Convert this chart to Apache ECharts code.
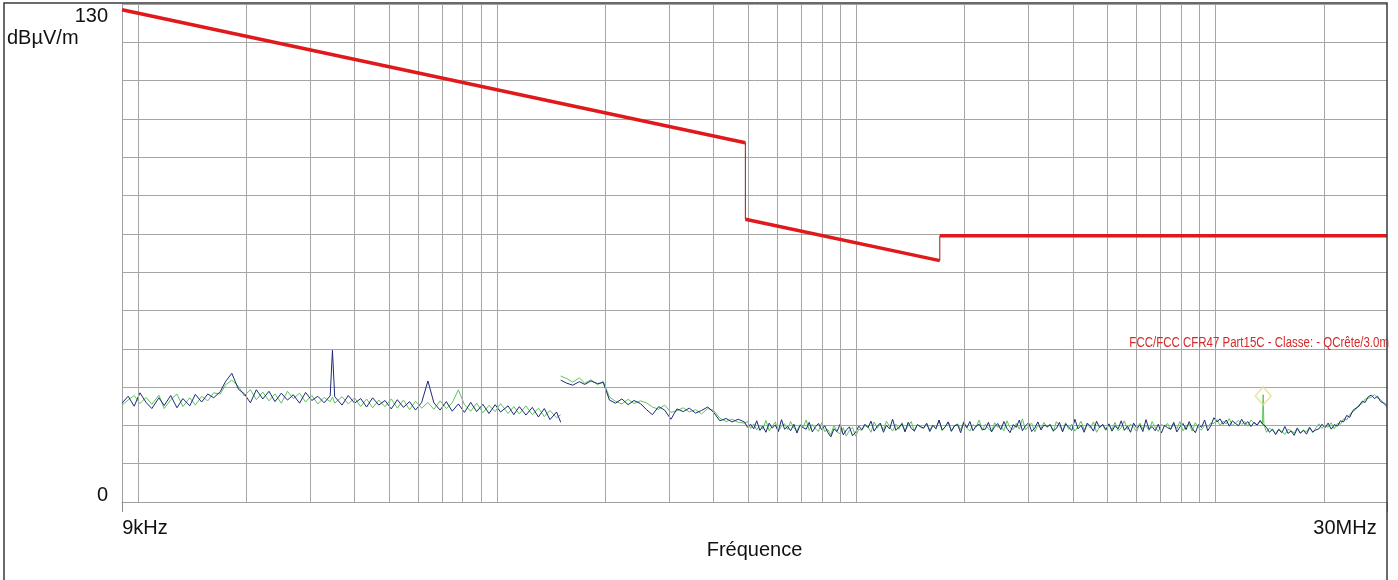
<!DOCTYPE html>
<html><head><meta charset="utf-8">
<script src="https://cdn.jsdelivr.net/npm/echarts@6/dist/echarts.min.js"></script>
<style>html,body{margin:0;padding:0;background:#fff}#c{width:1398px;height:580px}</style>
</head><body><div id="c"></div>
<script>
// ---- data (frequencies in kHz, levels in dBµV/m) ----
const freqBand1 = [9,9.36,9.73,10.1,10.5,10.9,11.4,11.8,12.3,12.8,13.3,13.9,14.4,15.0,15.6,16.2,16.9,17.5,18.2,19.0,19.7,20.5,21.3,22.2,23.1,24.0,25.0,26.0,27.0,28.1,29.2,30.4,31.6,32.9,34.2,34.7,35.2,36.9,38.4,40.0,41.6,43.2,44.9,46.7,48.6,50.6,52.6,54.7,56.9,59.1,61.5,64.0,66.5,69.2,72.0,74.8,77.8,80.9,84.2,87.5,91.0,94.7,98.5,102,107,111,115,120,125,130,135,140,146,150];
const blueBand1 = [
  25.8,27.6,25.0,28.5,26.0,24.4,27.2,25.2,27.8,24.6,27.0,25.1,28.1,26.1,28.2,27.2,
  28.8,31.5,33.6,29.4,
  28.3,25.9,29.3,26.9,28.9,26.2,28.4,26.6,28.0,25.8,28.6,26.5,27.6,25.9,27.7,
  39.6,
  27.5,25.3,27.8,25.8,27.0,24.8,27.2,25.3,26.5,24.3,26.7,24.7,26.2,24.0,26.0,
  31.6,
  25.9,24.0,26.2,23.7,25.6,23.4,26.0,23.6,25.5,23.1,25.4,23.5,25.1,22.8,24.9,22.7,24.7,22.2,24.4,21.5,23.5,20.8];
const greenBand1 = [
  25.3,26.6,27.8,25.7,27.3,25.5,27.9,24.4,26.7,28.2,24.9,27.2,25.3,27.6,26.4,28.5,
  28.2,30.6,31.8,30.2,
  27.7,29.3,26.7,28.7,26.4,28.2,25.8,28.9,27.0,28.4,26.1,27.8,25.6,27.3,26.2,
  27.4,
  25.8,27.5,25.6,27.2,24.9,26.9,24.6,26.6,24.9,26.9,24.5,26.6,24.1,26.3,24.5,
  26.0,
  24.2,26.4,24.4,25.9,29.3,25.4,23.7,25.8,23.3,25.2,23.6,25.7,23.1,24.9,23.0,25.1,22.8,24.5,22.3,23.9,22.0,22.8];

const freqBand2a = [150,156,162,169,175,182,190,197,205,213,222,231,240,250,260,270,281,292,304,316,329,342,356,370,385,400,416,433,450,468];
const blueBand2a = [31.8,31.0,30.5,31.4,30.7,31.6,30.9,31.2,26.6,25.8,26.9,25.4,26.5,25.7,24.1,22.8,24.9,24.0,21.6,24.3,23.6,24.5,23.2,23.9,24.8,23.4,21.2,21.8,20.9,21.6];
const greenBand2a = [32.9,32.2,31.3,32.4,31.0,31.9,30.6,31.5,27.4,26.3,25.6,26.8,25.7,26.4,25.9,24.8,24.2,25.3,23.4,23.8,24.6,23.5,24.1,23.0,24.4,23.9,21.9,21.0,21.6,20.8];

const freqBand2b = [
  487,497,507,517,527,538,548,559,571,582,
  594,605,618,630,643,655,669,682,696,710,
  724,738,753,768,783,799,815,832,848,865,
  882,900,918,936,955,974,994,1014,1034,1055,
  1076,1097,1119,1142,1164,1188,1211,1236,1260,1286,
  1311,1338,1364,1392,1420,1448,1477,1507,1537,1567,
  1599,1631,1663,1697,1731,1765,1800,1836,1873,1911,
  1949,1988,2028,2068,2109,2152,2195,2239,2283,2329,
  2376,2423,2472,2521,2572,2623,2676,2729,2784,2839,
  2896,2954,3013,3073,3135,3198,3262,3327,3393,3461,
  3530,3601,3673,3746,3821,3898,3976,4055,4136,4219,
  4303,4390,4477,4567,4658,4751,4846,4943,5042,5143,
  5246,5351,5458,5567,5678,5792,5908,6026,6146,6269,
  6395,6523,6653,6786,6922,7060,7202,7346,7493,7642,
  7795,7951,8110,8272,8438,8607,8779,8954,9133,9316,
  9502,9692,9886,10084,10286,10491,10701,10915,11134,11356,
  11583,11815,12051,12292,12538,12789,13045,13306,13500,13560,
  13620,13842,14119,14401,14689,14983,15283,15588,15900,16218,
  16543,16873,17211,17555,17906,18264,18630,19002,19382,19770,
  20165,20569,20980,21400,21828,22264,22709,23164,23627,24100,
  24582,25073,25575,26086,26608,27140,27683,28237,28801,29377,
  30000];
const blueBand2b = [
  20.9,19.5,20.3,19.1,21.2,18.7,19.8,18.2,20.6,19.3,20.1,18.4,21.5,19.0,19.7,18.6,20.3,18.0,20.0,19.4,
  19.0,20.8,18.3,19.6,20.5,18.9,
  19.9,18.1,17.0,19.1,18.4,20.3,17.5,18.8,19.6,17.3,18.2,19.8,
  18.9,20.3,19.4,21.1,18.5,19.8,20.6,18.2,20.0,19.1,21.6,18.7,19.5,20.4,18.3,20.8,19.2,18.6,20.2,19.7,
  19.3,20.5,18.4,20.0,19.2,21.4,18.8,19.6,20.9,18.5,19.9,20.2,18.1,20.7,19.4,21.0,18.6,19.8,20.3,18.9,
  19.0,20.8,18.3,19.6,20.5,18.9,21.0,19.2,18.1,20.2,19.5,21.4,18.6,19.9,20.7,18.4,19.3,20.9,18.8,20.1,
  19.7,20.2,18.6,19.2,20.8,18.3,20.4,19.5,18.7,21.6,19.1,20.0,18.2,20.6,19.8,18.5,21.1,19.4,20.3,18.9,
  20.4,18.5,19.9,19.1,21.2,18.7,19.8,18.2,20.6,19.3,20.1,18.4,21.5,19.0,19.7,18.6,20.3,18.0,20.0,19.4,
  19.0,20.8,18.3,19.6,20.5,18.9,21.0,19.2,18.1,20.2,19.5,21.4,18.6,19.9,
  22.0,20.9,21.7,20.3,21.4,19.8,21.2,20.5,19.9,21.6,20.2,21.0,19.7,20.8,20.1,21.3,
  20.4,20.0,20.6,
  19.5,18.2,19.0,17.6,18.9,18.1,19.7,17.9,18.5,17.4,19.2,18.0,18.7,17.7,19.4,18.3,18.8,
  19.1,20.3,19.4,20.6,19.0,20.2,
  19.8,21.2,20.9,22.6,22.1,23.9,24.5,25.0,26.3,26.0,27.5,
  27.9,27.0,27.6,26.2,25.8,24.9];
const greenBand2b = [
  20.6,21.0,19.2,20.4,18.8,20.1,19.0,21.3,18.6,19.7,20.9,18.4,19.9,20.4,18.9,21.0,19.3,18.5,20.2,19.6,
  21.4,18.7,20.3,19.1,18.4,20.7,
  18.4,18.9,17.5,20.1,18.3,17.8,19.4,17.2,18.7,19.5,17.2,19.0,
  18.7,20.0,19.6,18.2,20.9,19.3,20.4,18.8,21.1,19.7,18.5,20.3,19.0,20.7,18.6,19.9,21.0,18.4,20.2,19.5,
  19.2,20.6,18.8,20.1,19.0,21.3,18.6,19.7,20.9,18.4,19.9,20.4,18.9,21.0,19.3,18.5,20.2,19.6,21.4,18.7,
  20.3,19.1,18.4,20.7,19.5,20.0,18.6,21.2,19.4,18.9,20.5,19.0,21.7,18.8,19.8,20.6,18.3,20.1,19.2,20.8,
  19.5,20.2,18.4,21.0,19.9,18.6,20.7,19.0,20.3,18.5,19.7,21.1,18.8,20.4,19.3,20.9,18.2,19.6,20.0,18.7,
  20.1,19.0,20.8,18.6,19.4,21.2,18.9,20.3,19.6,18.3,20.6,19.1,20.0,18.7,21.0,19.5,18.4,20.2,19.8,20.5,
  18.9,20.4,19.2,21.0,18.6,19.8,20.3,18.5,20.7,19.4,18.8,20.1,19.6,20.6,
  20.5,21.5,20.0,21.1,20.4,21.8,19.9,20.7,21.3,20.2,21.0,19.8,21.4,20.6,20.0,21.1,
  20.3,28.0,20.5,
  18.2,19.3,18.7,17.8,19.1,18.4,17.6,19.0,18.6,18.0,19.4,17.9,18.8,18.3,19.6,18.1,19.3,
  20.4,19.2,20.0,19.5,20.7,19.1,
  20.5,20.3,21.7,21.4,22.9,23.5,24.2,25.4,25.7,26.9,27.1,
  27.4,28.0,27.2,26.7,25.9,25.4];

const limitFreq = [9, 490, 490, 1705, 1705, 30000];
const limitLevel = [128.5, 93.8, 73.8, 63.0, 69.5, 69.5];
const gridFreqs = [10,20,30,40,50,60,70,80,90,100,200,300,400,500,600,700,800,900,1000,2000,3000,4000,5000,6000,7000,8000,9000,10000,20000];
const markerFreq = [13560];
const markerLevel = [27.7];
const xEndLabels = ['9kHz', '30MHz'];
const yRange = [0, 130];
const yStep = 10;
const yUnit = 'dBµV/m';
const xName = 'Fréquence';
const limitName = 'FCC/FCC CFR47 Part15C - Classe: - QCrête/3.0m';

// ---- build series data ----
function buildTrace(v1, v2a, v2b) {
  const d = freqBand1.map((f, i) => [f, v1[i]]);
  d.push([freqBand1[freqBand1.length - 1], '-']);
  freqBand2a.forEach((f, i) => d.push([f, v2a[i]]));
  freqBand2b.forEach((f, i) => d.push([f, v2b[i]]));
  return d;
}
const limitThick = [];
const limitThin = [];
for (let i = 0; i < limitFreq.length; i += 2) {
  if (i > 0) limitThick.push([limitFreq[i], '-']);
  limitThick.push([limitFreq[i], limitLevel[i]], [limitFreq[i + 1], limitLevel[i + 1]]);
}
for (let i = 1; i < limitFreq.length - 1; i += 2) {
  if (i > 1) limitThin.push([limitFreq[i], '-']);
  limitThin.push([limitFreq[i], limitLevel[i]], [limitFreq[i + 1], limitLevel[i + 1]]);
}

const FONT = '"Liberation Sans", Arial, Helvetica, sans-serif';
const chart = echarts.init(document.getElementById('c'), null, { renderer: 'canvas' });
chart.setOption({
  animation: false,
  backgroundColor: '#ffffff',
  textStyle: { fontFamily: FONT },
  grid: { left: 122, right: 11, top: 4, bottom: 78, containLabel: false },
  xAxis: [
    {
      type: 'log', logBase: 10, min: freqBand1[0], max: freqBand2b[freqBand2b.length - 1],
      axisLine: { show: true, lineStyle: { color: '#a0a0a0', width: 1 } },
      axisTick: { show: false }, axisLabel: { show: false }, splitLine: { show: false }, minorTick: { show: false },
      name: xName, nameLocation: 'middle', nameGap: 38,
      nameTextStyle: { fontSize: 20, color: '#111', fontFamily: FONT }
    },
    {
      type: 'value', min: 0, max: 1, interval: 1, position: 'bottom',
      axisLine: { show: false }, splitLine: { show: false },
      axisTick: { show: true, length: 10, lineStyle: { color: '#8a8a8a', width: 1 } },
      axisLabel: {
        margin: 16, fontSize: 20, color: '#111', fontFamily: FONT,
        formatter: v => v === 0 ? '{l|' + xEndLabels[0] + '}' : '{r|' + xEndLabels[1] + '}',
        rich: {
          l: { fontSize: 20, color: '#111', fontFamily: FONT, padding: [0, 0, 0, 46] },
          r: { fontSize: 20, color: '#111', fontFamily: FONT, padding: [0, 84, 0, 0] }
        }
      }
    }
  ],
  yAxis: {
    type: 'value', min: yRange[0], max: yRange[1], interval: yStep,
    axisLine: { show: true, lineStyle: { color: '#a0a0a0', width: 1 } },
    axisTick: { show: false },
    splitLine: { show: true, lineStyle: { color: '#a6a6a6', width: 1 } },
    axisLabel: {
      margin: 14, fontSize: 20, color: '#111', fontFamily: FONT,
      formatter: v => v === yRange[1] ? '{t|' + v + '}' : (v === yRange[0] ? '{b|' + v + '}' : ''),
      rich: {
        t: { fontSize: 20, color: '#111', fontFamily: FONT, padding: [24, 0, 0, 0] },
        b: { fontSize: 20, color: '#111', fontFamily: FONT, padding: [0, 0, 14, 0] }
      }
    }
  },
  series: [
    {
      type: 'line', name: 'grid', data: [], silent: true, z: 1,
      markLine: {
        silent: true, symbol: ['none', 'none'], label: { show: false },
        lineStyle: { color: '#a6a6a6', width: 1, type: 'solid' },
        emphasis: { disabled: true },
        data: gridFreqs.map(f => ({ xAxis: f }))
      }
    },
    {
      type: 'line', name: 'green', data: buildTrace(greenBand1, greenBand2a, greenBand2b), showSymbol: false, z: 2,
      lineStyle: { color: '#5cc45c', width: 1 }, connectNulls: false
    },
    {
      type: 'line', name: 'blue', data: buildTrace(blueBand1, blueBand2a, blueBand2b), showSymbol: false, z: 3,
      lineStyle: { color: '#1d2a78', width: 1 }, connectNulls: false
    },
    {
      type: 'line', name: 'limitStep', data: limitThin, showSymbol: false, z: 4,
      lineStyle: { color: '#a0141a', width: 1 }
    },
    {
      type: 'line', name: 'limit', data: limitThick, showSymbol: false, z: 5,
      lineStyle: { color: '#e0191c', width: 3.5 }
    },
    {
      type: 'scatter', name: 'marker', z: 6,
      data: markerFreq.map((f, i) => [f, markerLevel[i]]),
      symbol: 'diamond', symbolSize: [16, 18],
      itemStyle: { color: 'rgba(0,0,0,0)', borderColor: '#e6dc8e', borderWidth: 1.5 }
    }
  ],
  graphic: [
    { type: 'rect', z: 100, silent: true, shape: { x: 4, y: 3, width: 1383, height: 640 },
      style: { fill: null, stroke: '#3a3a3a', lineWidth: 1.5 } },
    { type: 'text', z: 100, silent: true, x: 7, y: 38,
      style: { text: yUnit, font: '20px ' + FONT, fill: '#111', align: 'left', verticalAlign: 'middle' } },
    { type: 'text', z: 100, silent: true, x: 1389, y: 343, scaleX: 0.82,
      style: { text: limitName, font: '14px ' + FONT, fill: '#d42a2a', align: 'right', verticalAlign: 'middle' } }
  ]
});
</script>
</body></html>
